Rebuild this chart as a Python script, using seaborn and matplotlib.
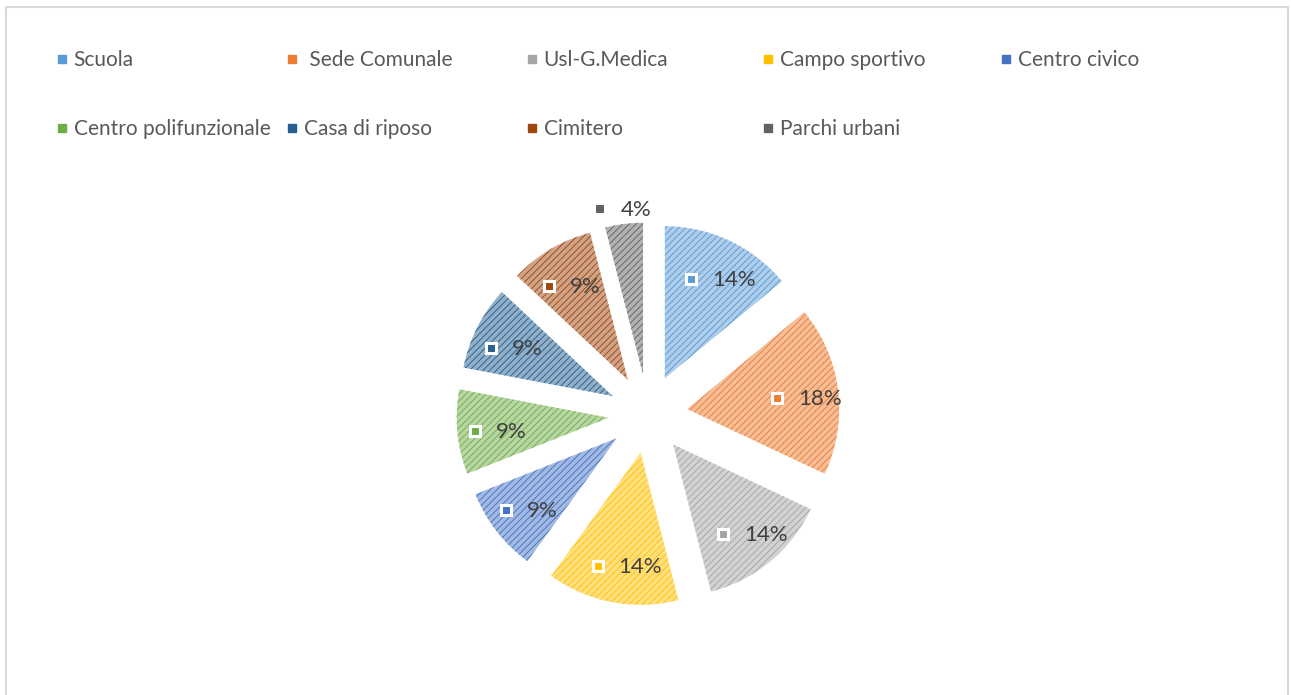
import matplotlib
matplotlib.use("Agg")
import matplotlib.pyplot as plt
from matplotlib.lines import Line2D
from matplotlib.patches import Rectangle
import seaborn as sns
import numpy as np

categories = ["Scuola", "Sede Comunale", "Usl-G.Medica", "Campo sportivo", "Centro civico",
              "Centro polifunzionale", "Casa di riposo", "Cimitero", "Parchi urbani"]
legend_labels = ["Scuola", " Sede Comunale", "Usl-G.Medica", "Campo sportivo", "Centro civico",
                 "Centro polifunzionale", "Casa di riposo", "Cimitero", "Parchi urbani"]
shares = [14, 18, 14, 14, 9, 9, 9, 9, 4]
hex_colors = ["#5B9BD5", "#ED7D31", "#A5A5A5", "#FFC000", "#4472C4",
              "#70AD47", "#255E91", "#9E480E", "#636363"]

sns.set_theme(style="white")
plt.rcParams["font.family"] = ["Lato", "DejaVu Sans"]
plt.rcParams["hatch.linewidth"] = 0.65

colors = sns.color_palette(hex_colors)
W, H = 1291, 695
fig = plt.figure(figsize=(W / 100, H / 100), dpi=100)
fig.patch.set_facecolor("white")

# light chart border like the Excel frame
fig.patches.append(Rectangle((6 / W, -0.05), 1282 / W, 1.05 - 7.5 / H, transform=fig.transFigure,
                             fill=False, edgecolor="#d9d9d9", linewidth=1.5))

ax = fig.add_axes([420 / W, 53 / H, 456 / W, 456 / H])


def tint(c, f=0.5):
    return tuple(np.array(c) + (1 - np.array(c)) * f)


explode = [0.26] * len(shares)
wedges, texts, autotexts = ax.pie(
    shares, explode=explode, startangle=90, counterclock=False,
    colors=[tint(c) for c in colors], autopct="%d%%", pctdistance=0.74,
    wedgeprops={"linewidth": 0, "hatch": "/////"},
    textprops={"fontsize": 16, "color": "#404040"}, radius=1.0)
ax.set_xlim(-1.5, 1.5)
ax.set_ylim(-1.5, 1.5)
ax.set_aspect("equal")
ax.axis("off")

for w, c in zip(wedges, colors):
    w.set_edgecolor(c)
    w.set_linewidth(0)

# small label shifted outside for the tiny slice
last = wedges[-1]
mid = np.deg2rad((last.theta1 + last.theta2) / 2)
cx, cy = last.center
autotexts[-1].set_position((cx + 1.12 * np.cos(mid), cy + 1.12 * np.sin(mid)))

# colored key square to the left of every percentage
for i, (t, c) in enumerate(zip(autotexts, colors)):
    x, y = t.get_position()
    px, py = ax.transData.transform((x, y))
    py -= 4
    tx, ty = ax.transData.inverted().transform((px - 1, py))
    t.set_position((tx, ty))
    t.set_ha("left")
    t.set_va("center")
    mx, my = ax.transData.inverted().transform((px - 22, py + 1))
    outside = i == len(autotexts) - 1
    ax.plot([mx], [my], marker="s", markersize=5.5 if outside else 7.5, markerfacecolor=c,
            markeredgecolor="white", markeredgewidth=0 if outside else 2.2,
            linestyle="none", zorder=5, clip_on=False)

# legend in two rows of evenly spaced columns
col_x = [57, 287, 527, 763, 1001]
row_y = [60, 129]
for i, (lab, c) in enumerate(zip(legend_labels, colors)):
    row, col = divmod(i, 5)
    h = Line2D([], [], marker="s", markersize=6, color=c, linestyle="none")
    fig.legend(handles=[h], labels=[lab], loc="center left",
               bbox_to_anchor=(col_x[col] / W, 1 - row_y[row] / H),
               frameon=False, fontsize=15, labelcolor="#595959",
               borderpad=0, borderaxespad=0, handlelength=0.45, handletextpad=0.35)

fig.savefig("out.png", dpi=100, facecolor="white")
